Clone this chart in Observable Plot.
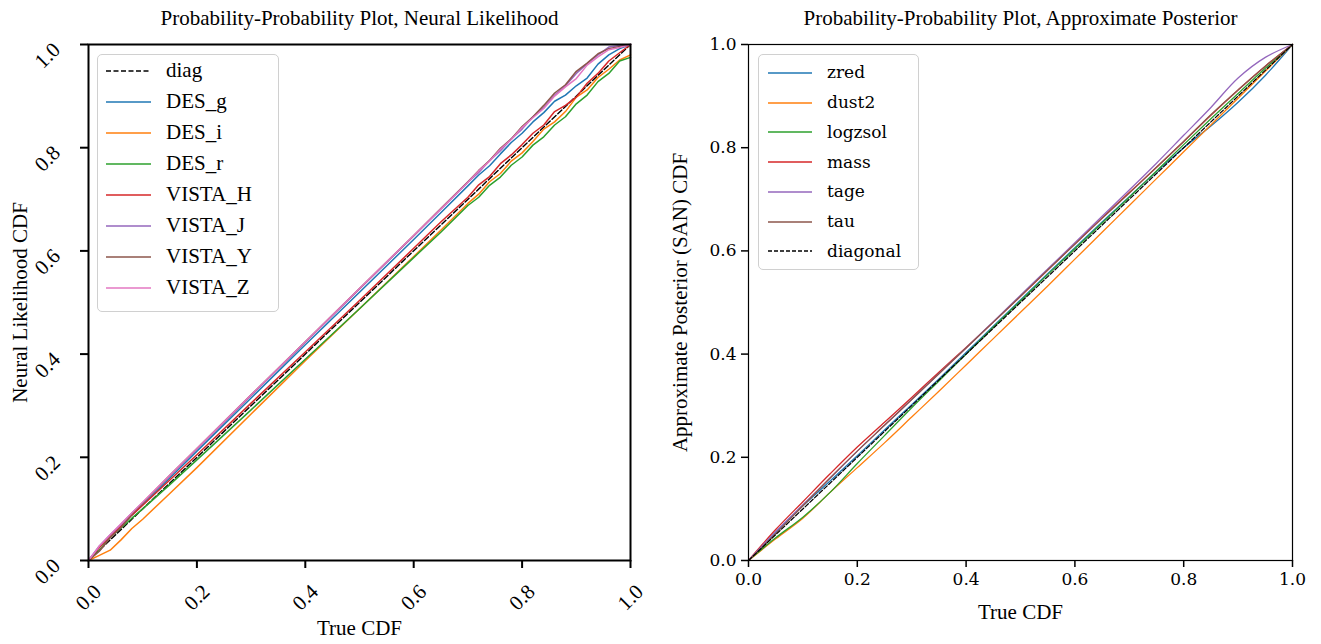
<!DOCTYPE html>
<html><head><meta charset="utf-8">
<script src="https://cdn.jsdelivr.net/npm/d3@7"></script>
<script src="https://cdn.jsdelivr.net/npm/@observablehq/plot@0.6"></script>
<style>
body{margin:0;background:#fff;}
#wrap{position:relative;width:1321px;height:644px;overflow:hidden;}
.panel{position:absolute;top:0;}
.legend{position:absolute;background:rgba(255,255,255,0.8);border:1.5px solid #d0d0d0;border-radius:5px;box-sizing:border-box;}
.legend svg{position:absolute;}
.legend span{position:absolute;color:#000;}
</style>
</head><body>
<div id="wrap"></div>
<script>
// ---------- Left panel data (Neural Likelihood) ----------
const titleL = "Probability-Probability Plot, Neural Likelihood";
const xLabel = "True CDF";
const yLabelL = "Neural Likelihood CDF";
const ticks = [0, 0.2, 0.4, 0.6, 0.8, 1.0];
const diag = [0, 1];
const xL = [0, 0.02, 0.04, 0.06, 0.08, 0.1, 0.15, 0.2, 0.3, 0.4, 0.5, 0.6, 0.65, 0.7, 0.72, 0.74, 0.76, 0.78, 0.8, 0.82, 0.84, 0.86, 0.88, 0.9, 0.92, 0.94, 0.96, 0.98, 1.0];
const seriesL = ["DES_g", "DES_i", "DES_r", "VISTA_H", "VISTA_J", "VISTA_Y", "VISTA_Z"];
const DES_g   = [0, .026, .048, .066, .088, .108, .160, .212, .315, .418, .520, .622, .674, .726, .747, .765, .788, .810, .828, .850, .868, .890, .902, .920, .935, .962, .980, .992, 1.0];
const DES_i   = [0, .010, .020, .040, .062, .080, .130, .180, .284, .387, .488, .589, .640, .692, .710, .734, .750, .774, .790, .812, .836, .850, .870, .898, .912, .936, .952, .970, .980];
const DES_r   = [0, .020, .045, .063, .082, .100, .147, .195, .292, .390, .488, .587, .636, .688, .704, .727, .743, .766, .782, .805, .821, .844, .860, .885, .902, .928, .944, .968, .975];
const VISTA_H = [0, .025, .048, .066, .088, .107, .156, .205, .305, .404, .504, .605, .656, .704, .728, .744, .769, .786, .806, .828, .844, .870, .882, .898, .925, .944, .968, .984, 1.0];
const VISTA_J = [0, .028, .050, .070, .092, .112, .164, .216, .320, .423, .526, .629, .681, .733, .752, .775, .794, .817, .836, .860, .878, .902, .920, .944, .963, .980, .995, .998, 1.0];
const VISTA_Y = [0, .018, .044, .064, .090, .112, .165, .217, .321, .424, .527, .630, .682, .734, .756, .775, .799, .817, .841, .860, .882, .906, .922, .948, .964, .982, .992, .996, 1.0];
const VISTA_Z = [0, .028, .050, .071, .092, .113, .165, .217, .321, .424, .527, .630, .681, .733, .755, .774, .797, .816, .839, .858, .876, .900, .918, .934, .960, .976, .990, .994, 1.0];
const valuesL = [DES_g, DES_i, DES_r, VISTA_H, VISTA_J, VISTA_Y, VISTA_Z];
const colorsL = ["#1f77b4", "#ff7f0e", "#2ca02c", "#d62728", "#9467bd", "#8c564b", "#e377c2"];

// ---------- Right panel data (Approximate Posterior) ----------
const titleR = "Probability-Probability Plot, Approximate Posterior";
const yLabelR = "Approximate Posterior (SAN) CDF";
const xR = [0, .05, .1, .15, .2, .25, .3, .35, .4, .45, .5, .55, .6, .65, .7, .75, .8, .85, .9, .95, 1.0];
const seriesR = ["zred", "dust2", "logzsol", "mass", "tage", "tau"];
const zred    = [0, .054, .106, .154, .203, .253, .302, .352, .403, .454, .505, .556, .606, .656, .705, .754, .800, .842, .888, .940, 1.0];
const dust2   = [0, .042, .082, .132, .180, .228, .278, .328, .379, .430, .481, .532, .584, .636, .688, .740, .792, .844, .896, .948, 1.0];
const logzsol = [0, .044, .084, .132, .188, .242, .296, .348, .400, .452, .503, .554, .604, .654, .704, .755, .806, .856, .905, .954, 1.0];
const mass    = [0, .060, .114, .168, .220, .268, .316, .365, .413, .462, .512, .563, .614, .664, .713, .762, .812, .863, .912, .958, 1.0];
const tage    = [0, .056, .108, .160, .212, .262, .312, .362, .412, .463, .514, .565, .616, .667, .718, .770, .824, .878, .935, .975, 1.0];
const tau     = [0, .052, .106, .160, .212, .262, .312, .362, .412, .462, .512, .563, .613, .663, .712, .762, .812, .864, .912, .958, 1.0];
const valuesR = [zred, dust2, logzsol, mass, tage, tau];
const colorsR = ["#1f77b4", "#ff7f0e", "#2ca02c", "#d62728", "#9467bd", "#8c564b"];

const SERIF = "'Liberation Serif', 'Times New Roman', serif";
const CM = "'DejaVu Serif', serif";

function rows(xs, names, vals) {
  const out = [];
  names.forEach((n, i) => xs.forEach((x, j) => out.push({series: n, x, y: vals[i][j]})));
  return out;
}
const dataL = rows(xL, seriesL, valuesL);
const dataR = rows(xR, seriesR, valuesR);
const fmt = d => d.toFixed(1);
const C = {textAnchor: "middle", lineAnchor: "middle"};

// ---------- Left plot ----------
const left = Plot.plot({
  width: 660, height: 644,
  marginLeft: 88, marginRight: 30, marginTop: 44, marginBottom: 84,
  x: {domain: [0, 1]}, y: {domain: [0, 1]},
  color: {domain: seriesL, range: colorsL},
  style: {fontFamily: SERIF, fontSize: "21px", background: "white"},
  marks: [
    Plot.line(diag, {x: d => d, y: d => d, stroke: "black", strokeWidth: 1.4, strokeDasharray: "5.5,2.5"}),
    Plot.line(dataL, {x: "x", y: "y", z: "series", stroke: "series", strokeWidth: 1.5}),
    Plot.frame({stroke: "black", strokeWidth: 2}),
    Plot.axisX({ticks, tickSize: 8, strokeWidth: 2, tickFormat: () => "", label: null}),
    Plot.axisY({ticks, tickSize: 8, strokeWidth: 2, tickFormat: () => "", label: null}),
    Plot.text(ticks, {x: d => d, frameAnchor: "bottom", dy: 37, rotate: -45, text: fmt, fontSize: 21, fontFamily: SERIF, ...C}),
    Plot.text(ticks, {y: d => d, frameAnchor: "left", dx: -41, dy: 11, rotate: -45, text: fmt, fontSize: 21, fontFamily: SERIF, ...C}),
    Plot.text([titleL], {frameAnchor: "top", dy: -26, text: d => d, fontSize: 21, ...C}),
    Plot.text([xLabel], {frameAnchor: "bottom", dy: 68, text: d => d, fontSize: 21, ...C}),
    Plot.text([yLabelL], {frameAnchor: "left", dx: -68, rotate: -90, text: d => d, fontSize: 21, ...C})
  ]
});

// ---------- Right plot ----------
const right = Plot.plot({
  width: 661, height: 644,
  marginLeft: 88, marginRight: 29, marginTop: 44, marginBottom: 84,
  x: {domain: [0, 1]}, y: {domain: [0, 1]},
  color: {domain: seriesR, range: colorsR},
  style: {fontFamily: SERIF, fontSize: "21px", background: "white"},
  marks: [
    Plot.line(dataR, {x: "x", y: "y", z: "series", stroke: "series", strokeWidth: 1.3, curve: "catmull-rom"}),
    Plot.line(diag, {x: d => d, y: d => d, stroke: "black", strokeWidth: 1.2, strokeDasharray: "4.5,2"}),
    Plot.frame({stroke: "black", strokeWidth: 1.2}),
    Plot.axisX({ticks, tickSize: 7, strokeWidth: 1.5, tickPadding: 5, tickFormat: fmt, label: null, fontFamily: CM, fontSize: 17}),
    Plot.axisY({ticks, tickSize: 7, strokeWidth: 1.5, tickPadding: 5, tickFormat: fmt, label: null, fontFamily: CM, fontSize: 17}),
    Plot.text([titleR], {frameAnchor: "top", dy: -26, text: d => d, fontSize: 21, ...C}),
    Plot.text([xLabel], {frameAnchor: "bottom", dy: 52, text: d => d, fontSize: 21, ...C}),
    Plot.text([yLabelR], {frameAnchor: "left", dx: -68, rotate: -90, text: d => d, fontSize: 21, ...C})
  ]
});

const wrap = document.getElementById("wrap");
left.classList.add("panel"); left.style.left = "0px";
right.classList.add("panel"); right.style.left = "660px";
wrap.appendChild(left); wrap.appendChild(right);

// ---------- Legends ----------
function legend(items, box, opts) {
  const div = document.createElement("div");
  div.className = "legend";
  Object.assign(div.style, {left: box.x + "px", top: box.y + "px", width: box.w + "px", height: box.h + "px"});
  items.forEach((it, i) => {
    const cy = opts.first + i * opts.step;
    const s = document.createElementNS("http://www.w3.org/2000/svg", "svg");
    s.setAttribute("width", opts.lineW); s.setAttribute("height", 6);
    s.style.left = opts.lineX + "px"; s.style.top = (cy - 3) + "px";
    const l = document.createElementNS("http://www.w3.org/2000/svg", "line");
    l.setAttribute("x1", 0); l.setAttribute("x2", opts.lineW); l.setAttribute("y1", 3); l.setAttribute("y2", 3);
    l.setAttribute("stroke", it.color); l.setAttribute("stroke-width", it.dash ? 1.3 : 1.5);
    if (it.dash) l.setAttribute("stroke-dasharray", it.dash);
    s.appendChild(l); div.appendChild(s);
    const t = document.createElement("span");
    t.textContent = it.name;
    Object.assign(t.style, {left: opts.textX + "px", top: (cy - opts.fs * 0.62) + "px", fontFamily: opts.font, fontSize: opts.fs + "px", lineHeight: "1.2"});
    div.appendChild(t);
  });
  wrap.appendChild(div);
}
legend(
  [{name: "diag", color: "black", dash: "5,2.5"}].concat(seriesL.map((n, i) => ({name: n, color: colorsL[i]}))),
  {x: 97, y: 54, w: 182, h: 258},
  {first: 16, step: 31, lineX: 8, lineW: 45, textX: 68, font: SERIF, fs: 21}
);
legend(
  seriesR.map((n, i) => ({name: n, color: colorsR[i]})).concat([{name: "diagonal", color: "black", dash: "4,2"}]),
  {x: 758, y: 54, w: 161, h: 216},
  {first: 18, step: 29.7, lineX: 9, lineW: 44, textX: 68, font: CM, fs: 17}
);
</script>
</body></html>
